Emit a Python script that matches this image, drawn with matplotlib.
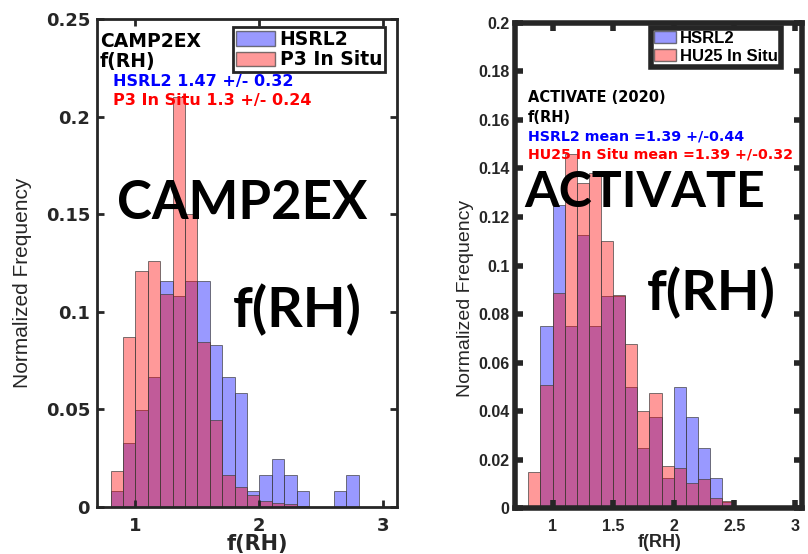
import matplotlib
matplotlib.use("Agg")
import matplotlib.pyplot as plt
import numpy as np
from matplotlib.patches import Patch

plt.rcParams['font.family'] = ['Liberation Sans', 'DejaVu Sans']
plt.rcParams['font.weight'] = 'bold'

# Bordes de los bins (ancho 0.1)
bordes = np.round(np.arange(0.8, 2.81, 0.1), 2)

# CAMP2EX: frecuencia normalizada por bin
camp_hsrl2 = [0.0082, 0.0329, 0.0497, 0.0664, 0.116, 0.108, 0.116, 0.116, 0.083, 0.0664,
              0.0584, 0.0082, 0.0166, 0.0247, 0.0166, 0.0082, 0.0, 0.0, 0.0082, 0.0166]
camp_p3 = [0.0184, 0.0872, 0.121, 0.126, 0.109, 0.21, 0.150, 0.0845, 0.0445, 0.0164,
           0.0104, 0.0061, 0.0031, 0.002, 0.0015, 0.0005, 0.0, 0.0, 0.0, 0.0]

# ACTIVATE: frecuencia normalizada por bin
act_hsrl2 = [0.0, 0.0749, 0.125, 0.0749, 0.1125, 0.0749, 0.0875, 0.0875, 0.050, 0.0247,
             0.0374, 0.0123, 0.050, 0.0374, 0.0247, 0.0123, 0.0025, 0.0, 0.0005, 0.0005]
act_hu25 = [0.0148, 0.0508, 0.0886, 0.146, 0.134, 0.138, 0.110, 0.088, 0.0675, 0.040,
            0.0475, 0.0173, 0.0165, 0.0103, 0.0121, 0.0041, 0.0029, 0.0, 0.001, 0.001]

azul = (0, 0, 1, 0.4)
rojo = (1, 0, 0, 0.4)
borde = (0.25, 0.25, 0.25, 0.7)
gris = '#262626'

fig = plt.figure(figsize=(8.08, 5.54), dpi=100)
ax1 = fig.add_axes([0.1200, 0.0848, 0.3713, 0.8809])
ax2 = fig.add_axes([0.6374, 0.0830, 0.3552, 0.8755])

fuente_grande = ['Lato', 'DejaVu Sans']
ancha = ['DejaVu Sans']          # el panel izquierdo esta estirado a lo ancho


def barras(ax, azules, rojas):
    ax.bar(bordes[:-1], azules, width=0.1, align='edge', color=azul,
           edgecolor=borde, linewidth=0.7)
    ax.bar(bordes[:-1], rojas, width=0.1, align='edge', color=rojo,
           edgecolor=borde, linewidth=0.7)


# Panel izquierdo: CAMP2EX
barras(ax1, camp_hsrl2, camp_p3)
ax1.set_xlim(0.69, 3.11)
ax1.set_ylim(0, 0.25)
ax1.set_xticks([1, 2, 3])
ax1.set_yticks([0, 0.05, 0.1, 0.15, 0.2, 0.25])
ax1.set_yticklabels(['0', '0.05', '0.1', '0.15', '0.2', '0.25'])
ax1.tick_params(direction='in', length=5, width=2, top=True, right=True,
                labelsize=13, pad=5, colors=gris)
ax1.tick_params(axis='x', pad=7)
for lab in ax1.get_xticklabels() + ax1.get_yticklabels():
    lab.set_family(ancha)
for s in ax1.spines.values():
    s.set_linewidth(2)
    s.set_color(gris)
ax1.text(0.01, 0.953, 'CAMP2EX', transform=ax1.transAxes, fontsize=13.5, va='center',
         family=ancha)
ax1.text(0.01, 0.912, 'f(RH)', transform=ax1.transAxes, fontsize=13.5, va='center',
         family=ancha)
ax1.text(0.053, 0.872, 'HSRL2 1.47 +/- 0.32', transform=ax1.transAxes, fontsize=11.5,
         va='center', color='blue', family=ancha)
ax1.text(0.053, 0.834, 'P3 In Situ 1.3 +/- 0.24', transform=ax1.transAxes, fontsize=11.5,
         va='center', color='red', family=ancha)
ax1.text(0.483, 0.621, 'CAMP2EX', transform=ax1.transAxes, fontsize=38,
         ha='center', va='center', family=fuente_grande)
ax1.text(0.667, 0.404, 'f(RH)', transform=ax1.transAxes, fontsize=40,
         ha='center', va='center', family=fuente_grande)
leg1 = ax1.legend(handles=[Patch(facecolor=azul, edgecolor=borde, label='HSRL2'),
                           Patch(facecolor=rojo, edgecolor=borde, label='P3 In Situ')],
                  loc='upper right', bbox_to_anchor=(0.96, 0.984),
                  prop={'family': ancha, 'size': 13.5, 'weight': 'bold'},
                  fancybox=False, framealpha=1, edgecolor=gris, handlelength=2.1,
                  handleheight=0.85, borderpad=0.15, labelspacing=0.1,
                  handletextpad=0.25, borderaxespad=0)
leg1.get_frame().set_linewidth(2)

# Panel derecho: ACTIVATE
barras(ax2, act_hsrl2, act_hu25)
ax2.set_xlim(0.69, 3.06)
ax2.set_ylim(0, 0.2)
ax2.set_xticks([1, 1.5, 2, 2.5, 3])
ax2.set_xticklabels(['1', '1.5', '2', '2.5', '3'])
ax2.set_yticks(np.round(np.arange(0, 0.201, 0.02), 2))
ax2.set_yticklabels(['0', '0.02', '0.04', '0.06', '0.08', '0.1', '0.12', '0.14',
                     '0.16', '0.18', '0.2'])
ax2.tick_params(direction='in', length=6, width=4, top=True, right=True,
                labelsize=11.5, pad=4, colors=gris)
ax2.tick_params(axis='x', pad=8)
for s in ax2.spines.values():
    s.set_linewidth(4)
    s.set_color(gris)
ax2.text(0.045, 0.847, 'ACTIVATE (2020)', transform=ax2.transAxes, fontsize=10.5,
         va='center', family=ancha)
ax2.text(0.045, 0.806, 'f(RH)', transform=ax2.transAxes, fontsize=10.5, va='center',
         family=ancha)
ax2.text(0.045, 0.767, 'HSRL2 mean =1.39 +/-0.44', transform=ax2.transAxes, fontsize=10.3,
         va='center', color='blue', family=ancha)
ax2.text(0.045, 0.728, 'HU25 In Situ mean =1.39 +/-0.32', transform=ax2.transAxes,
         fontsize=10.3, va='center', color='red', family=ancha)
ax2.text(0.453, 0.650, 'ACTIVATE', transform=ax2.transAxes, fontsize=36,
         ha='center', va='center', family=fuente_grande)
ax2.text(0.683, 0.443, 'f(RH)', transform=ax2.transAxes, fontsize=40,
         ha='center', va='center', family=fuente_grande)
leg2 = ax2.legend(handles=[Patch(facecolor=azul, edgecolor=borde, label='HSRL2'),
                           Patch(facecolor=rojo, edgecolor=borde, label='HU25 In Situ')],
                  loc='upper right', bbox_to_anchor=(0.927, 0.99), fontsize=12,
                  fancybox=False, framealpha=1, edgecolor=gris, handlelength=1.3,
                  handleheight=0.75, borderpad=0.2, labelspacing=0.15,
                  handletextpad=0.25, borderaxespad=0)
leg2.get_frame().set_linewidth(4)

# Etiquetas de ejes
fig.text(0.028, 0.489, 'Normalized Frequency', rotation=90, ha='center', va='center',
         fontsize=15, fontweight='normal', color=gris)
fig.text(0.576, 0.462, 'Normalized Frequency', rotation=90, ha='center', va='center',
         fontsize=14, fontweight='normal', color=gris)
fig.text(0.318, 0.0175, 'f(RH)', ha='center', va='center', fontsize=15, family=ancha,
         color=gris)
fig.text(0.817, 0.0199, 'f(RH)', ha='center', va='center', fontsize=13, color=gris)

fig.savefig('out.png', dpi=100)
